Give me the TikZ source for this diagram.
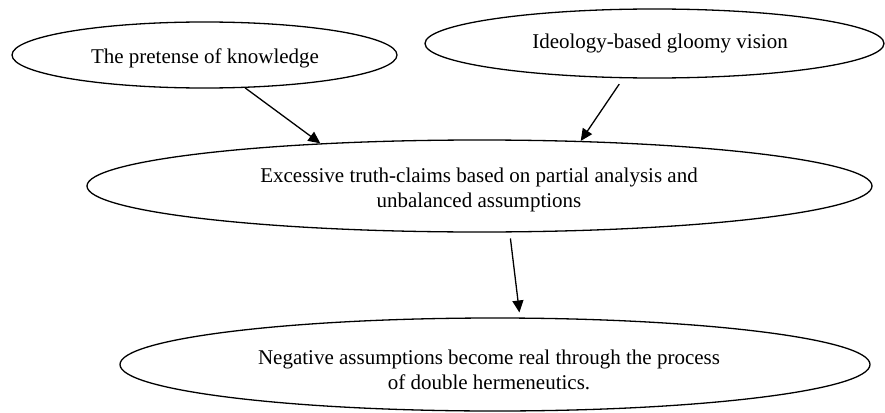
\documentclass[tikz,border=0pt]{standalone}
\usepackage{fontspec}
\setmainfont{Liberation Serif}
\usetikzlibrary{shapes.geometric,arrows.meta}
\begin{document}
\begin{tikzpicture}[x=1pt, y=-1pt,
  bubble/.style={ellipse, draw, line width=1.3pt, inner sep=0pt},
  caption/.style={inner sep=0pt, align=center, font=\fontsize{21}{25}\selectfont},
  link/.style={line width=1.3pt, -{Triangle[length=12pt,width=11pt]}}]
  \useasboundingbox (0,0) rectangle (885,412);
  \node [bubble, minimum width=385pt, minimum height=66pt] (pretense) at (204.5,55) {};
  \node [bubble, minimum width=459pt, minimum height=69pt] (ideology) at (654.5,43.5) {};
  \node [bubble, minimum width=785pt, minimum height=92pt] (claims) at (479.5,186) {};
  \node [bubble, minimum width=750pt, minimum height=93pt] (negative) at (495,364.5) {};
  \node [caption] (pretense text) at (205,58) {The pretense of knowledge};
  \node [caption] (ideology text) at (660,43.5) {Ideology-based gloomy vision};
  \node [caption] (claims text) at (479,190) {Excessive truth-claims based on partial analysis and\\unbalanced assumptions};
  \node [caption] (negative text) at (489,370) {Negative assumptions become real through the process\\of double hermeneutics.};
  \draw [link] (pretense.-39) -- (claims.165);
  \draw [link, shorten <=7pt] (ideology.-132) -- (claims.24);
  \draw [link, shorten <=6pt, shorten >=5pt] (claims.-57) -- (negative.62);
\end{tikzpicture}
\end{document}
